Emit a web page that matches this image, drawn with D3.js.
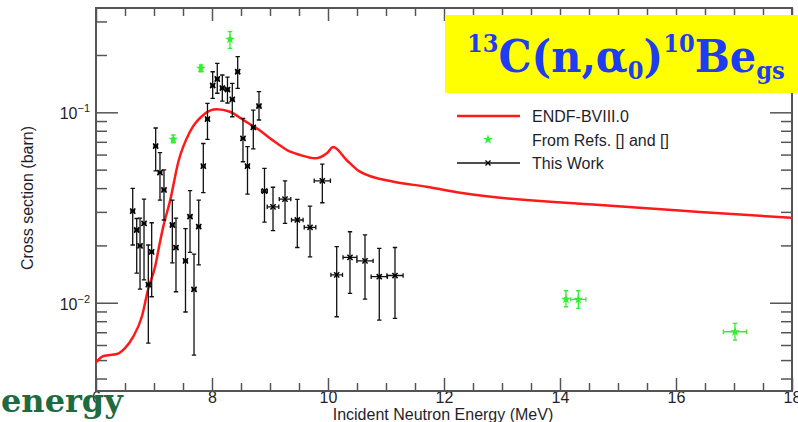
<!DOCTYPE html>
<html>
<head>
<meta charset="utf-8">
<script src="https://cdn.jsdelivr.net/npm/d3@7"></script>
<style>
body { margin: 0; background: #fff; }
svg { display: block; }
text { font-family: "Liberation Sans", Arial, sans-serif; }
</style>
</head>
<body>
<div id="chart"></div>
<script>
// Width and height
var chart_width = 798;
var chart_height = 422;
var plot = {left: 96, right: 792, top: 8, bottom: 391};

// ENDF/B-VIII.0 evaluated cross section (MeV, barn)
var endfEnergy = [6.00, 6.13, 6.36, 6.50, 6.64, 6.79, 6.90, 7.02, 7.10, 7.16, 7.28, 7.42, 7.62, 7.85, 8.08, 8.31, 8.54, 8.77, 9.12, 9.35, 9.52, 9.78, 9.98, 10.09, 10.32, 10.55, 11.13, 11.70, 12.28, 14.69, 16.41, 18.00];
var endfXs = [0.00486, 0.00525, 0.00538, 0.00578, 0.00662, 0.00844, 0.0118, 0.0155, 0.0206, 0.0251, 0.0346, 0.0550, 0.0791, 0.0968, 0.1037, 0.1007, 0.0911, 0.0824, 0.0688, 0.0621, 0.0597, 0.0573, 0.0609, 0.0657, 0.0562, 0.0488, 0.0432, 0.0407, 0.0378, 0.0326, 0.0300, 0.0279];

// this work: energy, cross section, lower / upper end of error bar, energy half width
var workEnergy = [6.633, 6.702, 6.759, 6.828, 6.902, 6.960, 7.029, 7.103, 7.172, 7.316, 7.379, 7.543, 7.621, 7.690, 7.771, 7.850, 7.922, 8.012, 8.091, 8.178, 8.267, 8.350, 8.443, 8.534, 8.612, 8.712, 8.810, 8.905, 9.052, 9.259, 9.471, 9.690, 9.902, 10.150, 10.379, 10.638, 10.884, 11.155];
var workXs = [0.0303, 0.0241, 0.0199, 0.0261, 0.01246, 0.0185, 0.0665, 0.0482, 0.0391, 0.0256, 0.0195, 0.0166, 0.0283, 0.01176, 0.0251, 0.0522, 0.0922, 0.1383, 0.1496, 0.1341, 0.1317, 0.1170, 0.1633, 0.0730, 0.0522, 0.0834, 0.1079, 0.0386, 0.0319, 0.0350, 0.0272, 0.0249, 0.0437, 0.0140, 0.0173, 0.0166, 0.0137, 0.0139];
var workLo = [0.0201, 0.0143, 0.0118, 0.0132, 0.00614, 0.01075, 0.0492, 0.0346, 0.0272, 0.0162, 0.01142, 0.00894, 0.0184, 0.00531, 0.0158, 0.0379, 0.0721, 0.1185, 0.1259, 0.1146, 0.1119, 0.0948, 0.1336, 0.0550, 0.0372, 0.0642, 0.0911, 0.0265, 0.0239, 0.0261, 0.0195, 0.0174, 0.0335, 0.00844, 0.0112, 0.01045, 0.00811, 0.00828];
var workHi = [0.0399, 0.0277, 0.0278, 0.0350, 0.0201, 0.0263, 0.0827, 0.0614, 0.0498, 0.0346, 0.0278, 0.0245, 0.0388, 0.0180, 0.0346, 0.0686, 0.1115, 0.1633, 0.1809, 0.1570, 0.1532, 0.1420, 0.1959, 0.0930, 0.0660, 0.1028, 0.1283, 0.0508, 0.0404, 0.0437, 0.0349, 0.0322, 0.0535, 0.0197, 0.0236, 0.0227, 0.0193, 0.0195];
var workDE = [0.03, 0.03, 0.03, 0.03, 0.03, 0.03, 0.03, 0.03, 0.03, 0.03, 0.03, 0.03, 0.03, 0.03, 0.03, 0.03, 0.03, 0.03, 0.03, 0.03, 0.03, 0.03, 0.03, 0.03, 0.03, 0.03, 0.03, 0.05, 0.10, 0.10, 0.10, 0.10, 0.14, 0.10, 0.12, 0.14, 0.14, 0.14];

// previous measurements
var refEnergy = [7.333, 7.810, 8.310, 14.103, 14.316, 17.017];
var refXs = [0.0721, 0.1703, 0.2417, 0.01042, 0.01042, 0.00704];
var refLo = [0.0692, 0.1633, 0.2168, 0.00953, 0.00935, 0.00637];
var refHi = [0.0760, 0.1772, 0.2650, 0.01156, 0.01156, 0.00779];
var refDE = [0.02, 0.02, 0.02, 0.02, 0.13, 0.20];

var xMajor = [6, 8, 10, 12, 14, 16, 18];
var yMajor = [0.01, 0.1];
var yLabelExp = ["\u22122", "\u22121"];
var legendLabels = ["ENDF-BVIII.0", "From Refs. [] and []", "This Work"];

var axisColor = "#555";
var textColor = "#1f1f2a";
var red = "#ff1a1a";
var green = "#33ee33";

var svg = d3.select("#chart").append("svg")
  .attr("width", chart_width)
  .attr("height", chart_height);

var x = d3.scaleLinear().domain([6, 18]).range([plot.left, plot.right]);
var y = d3.scaleLog().domain([0.00344, 0.353]).range([plot.bottom, plot.top]);

svg.append("clipPath").attr("id", "clip").append("rect")
  .attr("x", plot.left).attr("y", plot.top)
  .attr("width", plot.right - plot.left).attr("height", plot.bottom - plot.top);

//minor ticks
var xMinor = d3.range(6, 18.01, 0.5).filter(function(v) { return xMajor.indexOf(v) < 0; });
var yMinor = [];
[0.001, 0.01, 0.1].forEach(function(d) {
  for (var k = 2; k <= 9; k++) {
    var v = d * k;
    if (v > y.domain()[0] && v < y.domain()[1]) yMinor.push(v);
  }
});

function styleAxis(g) {
  g.select(".domain").remove();
  g.selectAll(".tick line").attr("stroke", axisColor).attr("stroke-width", 1.5);
  g.selectAll(".tick text").attr("fill", textColor).style("font-size", "16px")
    .style("font-family", "'Liberation Sans', Arial, sans-serif");
}

svg.append("g").attr("transform", "translate(0," + plot.bottom + ")")
  .call(d3.axisBottom(x).tickValues(xMinor).tickSize(-8).tickFormat("")).call(styleAxis);
svg.append("g").attr("transform", "translate(0," + plot.bottom + ")")
  .call(d3.axisBottom(x).tickValues(xMajor).tickSize(-13).tickPadding(1).tickFormat(d3.format("d"))).call(styleAxis);
svg.append("g").attr("transform", "translate(0," + plot.top + ")")
  .call(d3.axisTop(x).tickValues(xMinor).tickSize(-8).tickFormat("")).call(styleAxis);
svg.append("g").attr("transform", "translate(0," + plot.top + ")")
  .call(d3.axisTop(x).tickValues(xMajor).tickSize(-13).tickFormat("")).call(styleAxis);

svg.append("g").attr("transform", "translate(" + plot.left + ",0)")
  .call(d3.axisLeft(y).tickValues(yMinor).tickSize(-11).tickFormat("")).call(styleAxis);
svg.append("g").attr("transform", "translate(" + plot.left + ",0)")
  .call(d3.axisLeft(y).tickValues(yMajor).tickSize(-22).tickFormat("")).call(styleAxis);
svg.append("g").attr("transform", "translate(" + plot.right + ",0)")
  .call(d3.axisRight(y).tickValues(yMinor).tickSize(-11).tickFormat("")).call(styleAxis);
svg.append("g").attr("transform", "translate(" + plot.right + ",0)")
  .call(d3.axisRight(y).tickValues(yMajor).tickSize(-22).tickFormat("")).call(styleAxis);

// 10^n labels
yMajor.forEach(function(v, i) {
  var t = svg.append("text")
    .attr("x", 90).attr("y", y(v) + 7)
    .attr("text-anchor", "end")
    .attr("fill", textColor)
    .style("font-size", "16px");
  t.append("tspan").text("10");
  t.append("tspan").text(yLabelExp[i]).attr("dy", -7).style("font-size", "11px");
});

// frame
svg.append("rect")
  .attr("x", plot.left).attr("y", plot.top)
  .attr("width", plot.right - plot.left).attr("height", plot.bottom - plot.top)
  .attr("fill", "none").attr("stroke", axisColor).attr("stroke-width", 2);

// axis titles
svg.append("text")
  .attr("x", 443).attr("y", 420)
  .attr("text-anchor", "middle").attr("fill", textColor)
  .style("font-size", "16px")
  .text("Incident Neutron Energy (MeV)");
svg.append("text")
  .attr("transform", "translate(33,198) rotate(-90)")
  .attr("text-anchor", "middle").attr("fill", textColor)
  .style("font-size", "16px")
  .text("Cross section (barn)");

var plotArea = svg.append("g").attr("clip-path", "url(#clip)");

// ENDF curve
var line = d3.line()
  .x(function(d, i) { return x(endfEnergy[i]); })
  .y(function(d) { return y(d); })
  .curve(d3.curveMonotoneX);
plotArea.append("path").datum(endfXs)
  .attr("d", line)
  .attr("fill", "none").attr("stroke", red).attr("stroke-width", 2.5);

//error bars, ROOT style with small end caps
function errorBars(g, en, xs, lo, hi, de, color) {
  var cap = 2.2;
  en.forEach(function(e, i) {
    var cx = x(e), cy = y(xs[i]);
    var x0 = x(e - de[i]), x1 = x(e + de[i]);
    var y0 = y(lo[i]), y1 = y(hi[i]);
    var p = "M" + cx + "," + y0 + "V" + y1 +
      "M" + (cx - cap) + "," + y0 + "H" + (cx + cap) +
      "M" + (cx - cap) + "," + y1 + "H" + (cx + cap) +
      "M" + x0 + "," + cy + "H" + x1 +
      "M" + x0 + "," + (cy - cap) + "V" + (cy + cap) +
      "M" + x1 + "," + (cy - cap) + "V" + (cy + cap);
    g.append("path").attr("d", p).attr("stroke", color).attr("stroke-width", 1.3).attr("fill", "none");
  });
}

var workG = plotArea.append("g");
errorBars(workG, workEnergy, workXs, workLo, workHi, workDE, "#111");
var cross = "M-2.6,-2.6L2.6,2.6M-2.6,2.6L2.6,-2.6";
workG.selectAll("path.mk").data(workXs).enter().append("path")
  .attr("class", "mk")
  .attr("d", cross)
  .attr("transform", function(d, i) { return "translate(" + x(workEnergy[i]) + "," + y(d) + ")"; })
  .attr("stroke", "#000").attr("stroke-width", 1.5).attr("fill", "none");

var refG = plotArea.append("g");
errorBars(refG, refEnergy, refXs, refLo, refHi, refDE, green);
var star = d3.symbol().type(d3.symbolStar).size(30);
refG.selectAll("path.st").data(refXs).enter().append("path")
  .attr("class", "st")
  .attr("d", star)
  .attr("transform", function(d, i) { return "translate(" + x(refEnergy[i]) + "," + y(d) + ")"; })
  .attr("fill", green);

// legend
var legend = svg.append("g");
var rowY = [116, 139.5, 163];
legend.append("line").attr("x1", 457).attr("x2", 520).attr("y1", rowY[0]).attr("y2", rowY[0])
  .attr("stroke", red).attr("stroke-width", 2.5);
legend.append("path").attr("d", star).attr("transform", "translate(488," + rowY[1] + ")").attr("fill", green);
legend.append("line").attr("x1", 457).attr("x2", 520).attr("y1", rowY[2]).attr("y2", rowY[2])
  .attr("stroke", "#111").attr("stroke-width", 1.3);
legend.append("path").attr("d", "M-2.5,-2.5L2.5,2.5M-2.5,2.5L2.5,-2.5")
  .attr("transform", "translate(488," + rowY[2] + ")").attr("stroke", "#000").attr("stroke-width", 1.4);
legend.selectAll("text").data(legendLabels).enter().append("text")
  .attr("x", 532).attr("y", function(d, i) { return rowY[i] + 6; })
  .attr("fill", textColor).style("font-size", "16px")
  .text(function(d) { return d; });

// title box
svg.append("rect").attr("x", 445).attr("y", 15).attr("width", 360).attr("height", 78).attr("fill", "#ffff00");
var title = svg.append("text")
  .attr("fill", "#1e3cf0")
  .style("font-family", "'DejaVu Serif', serif")
  .style("font-weight", "bold")
  .style("font-size", "44px");
title.append("tspan").text("13").style("font-size", "24px").attr("dy", -20);
title.append("tspan").text("C(n,").attr("dy", 20);
title.append("tspan").text("\u03b1");
title.append("tspan").text("0").style("font-size", "24px").attr("dy", 7);
title.append("tspan").text(")").attr("dy", -7);
title.append("tspan").text("10").style("font-size", "24px").attr("dy", -20);
title.append("tspan").text("Be").attr("dy", 20);
title.append("tspan").text("gs").style("font-size", "24px").attr("dy", 7);
var tw = title.node().getComputedTextLength();
title.attr("transform", "translate(467,72) scale(" + (318 / tw) + ",1)");

// logo text
svg.append("text")
  .attr("x", 1).attr("y", 412)
  .attr("fill", "#1d6b3e")
  .style("font-family", "'DejaVu Serif', serif")
  .style("font-weight", "bold")
  .style("font-size", "32px")
  .text("energy");
</script>
</body>
</html>
